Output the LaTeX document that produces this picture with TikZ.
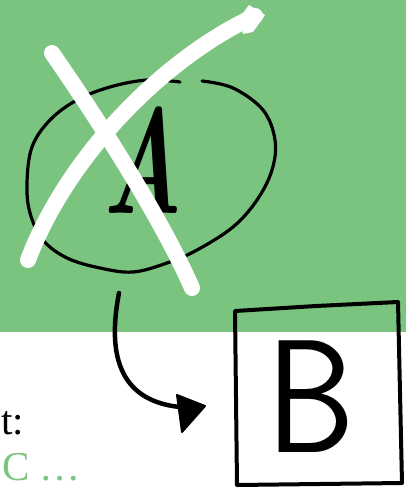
\documentclass[tikz,border=0pt]{standalone}
\usepackage{fontspec}
\newfontfamily\labelfont{Liberation Serif}
\definecolor{bggreen}{HTML}{7BC47F}
\tikzset{
  ink/.style={draw=black, line cap=round, line join=round},
  eraser/.style={draw=white, line width=16bp, line cap=round},
  bigletter/.style={inner sep=0pt, anchor=base},
  sidetext/.style={inner sep=0pt, font=\labelfont\fontsize{41bp}{48bp}\selectfont}
}
\begin{document}
\begin{tikzpicture}[x=1bp,y=-1bp]
\useasboundingbox (0,0) rectangle (406,490);
% background
\fill[bggreen] (0,0) rectangle (406,332);
% ellipse around A (open hand-drawn curve)
\draw[ink, line width=3.2bp] plot[smooth, tension=0.6] coordinates {(202,81) (233,88) (263,110) (275,140) (272,170) (257,200) (233,227) (197,250) (167,263) (133,272) (100,268) (67,258) (43,240) (30,213) (27,183) (32,147) (50,120) (77,100) (110,87) (147,80) (180,82)};
% letter A
\node[bigletter, font=\fontsize{150bp}{150bp}\selectfont\bfseries\itshape, xscale=0.62] (letterA) at (143,213) {A};
% white cross
\draw[eraser] (52,53) .. controls (95,115) and (160,215) .. (192,288);
\draw[eraser] (255,16) .. controls (170,55) and (70,150) .. (28,260);
\fill[white] (240,17) -- (249,5) -- (265,15) -- (253,32) -- (243,34) -- cycle;
% box B
\draw[ink, line width=4bp] (235,311) -- (316,306) -- (398,302) -- (402,483) -- (237,485) -- cycle;
\node[bigletter, font=\fontsize{161bp}{161bp}\selectfont\sffamily, xscale=0.88] (letterB) at (311,452) {B};
% arrow
\coordinate (arrowtail) at (119,293);
\coordinate (arrowtip) at (180,407);
\draw[ink, line width=4.5bp] (arrowtail) .. controls (110,340) and (110,400) .. (arrowtip);
\filldraw[ink, fill=black, line width=2bp] (177,395) -- (205,406) -- (182,432) -- cycle;
% side text
\node[sidetext, anchor=base west] (tlabel) at (1,434) {t:};
\node[sidetext, anchor=base west, text=bggreen] (clabel) at (2,480) {C …};
\end{tikzpicture}
\end{document}
